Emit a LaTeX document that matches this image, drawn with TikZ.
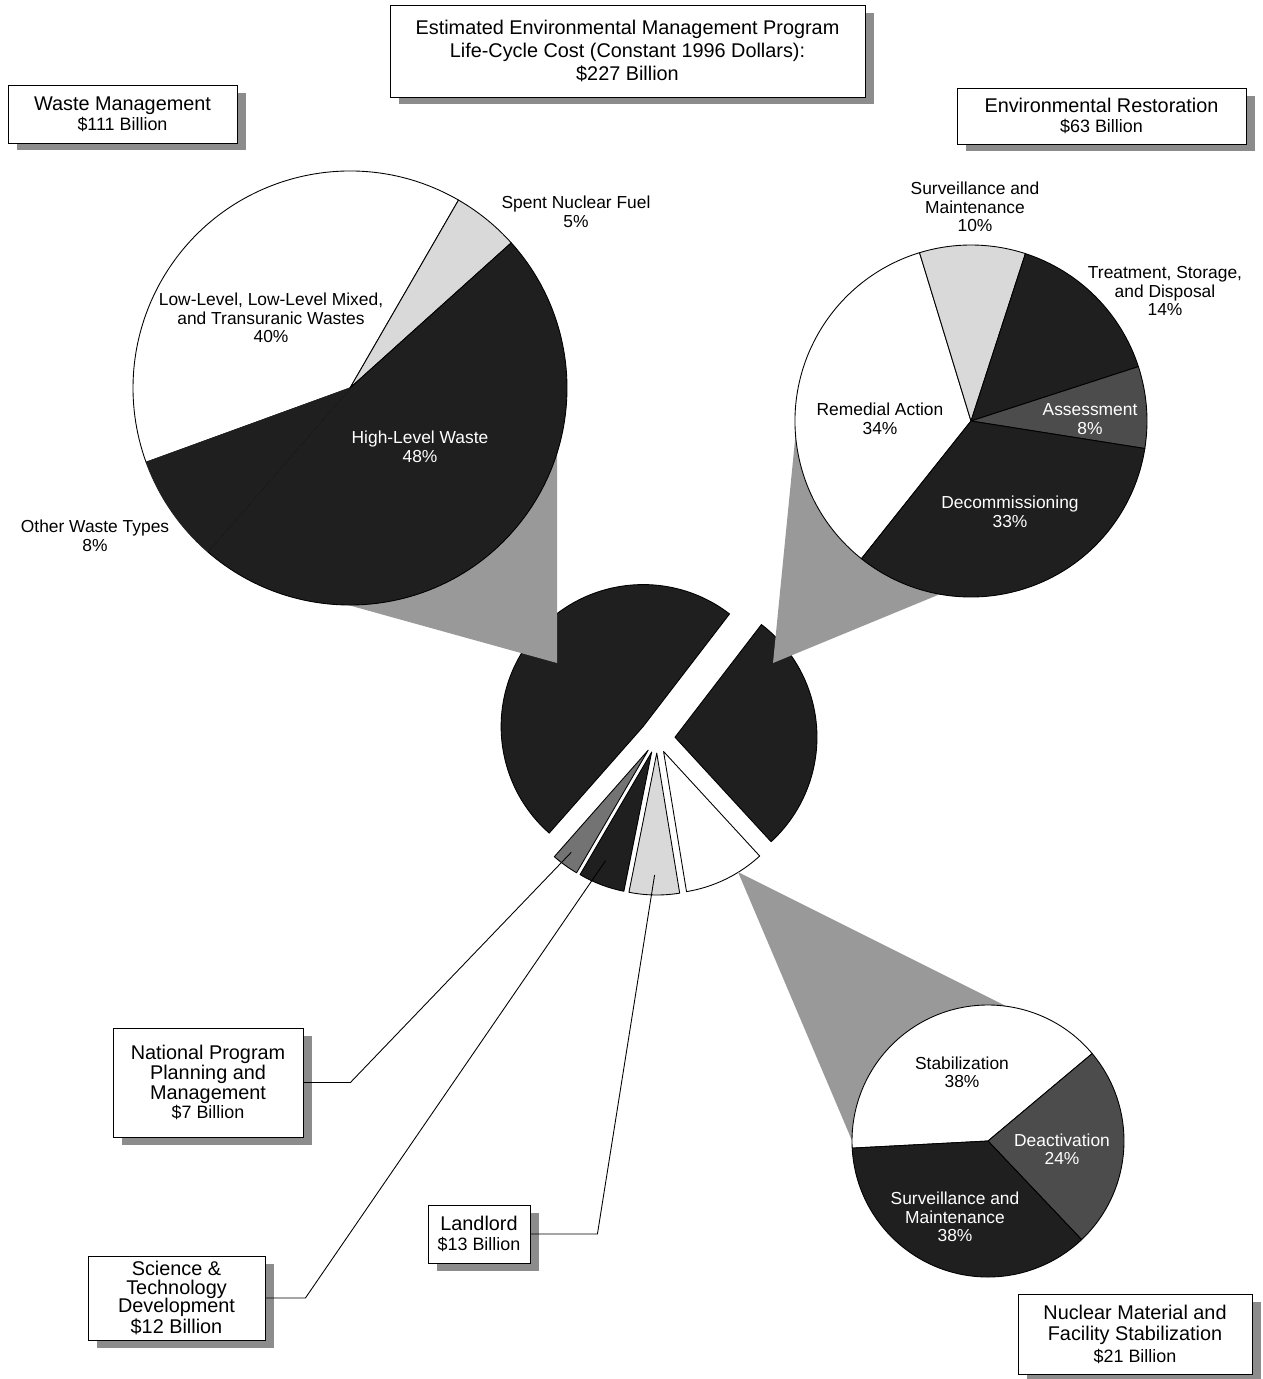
\documentclass[tikz,border=0pt]{standalone}
\usepackage{fontspec}
\setmainfont{Liberation Sans}
\usetikzlibrary{calc,shadows,positioning}
\colorlet{dark}{black!88}
\colorlet{light}{black!15}
\colorlet{midgrey}{black!55}
\colorlet{darkgrey}{black!70}
\newcommand{\amt}{\fontsize{10.2}{11}\selectfont}
\newcommand{\pieslice}[5]{%
    \filldraw[slice, #5] (#1) -- ++(#3:#2) arc[start angle=#3, end angle=#4, radius=#2] -- cycle;
}
\tikzset{
    box/.style = {draw, rectangle, fill=white, align=center, inner sep=0pt,
        font=\fontsize{11.3}{11.3}\selectfont,
        drop shadow={shadow xshift=0.18cm, shadow yshift=-0.15cm, fill=black!45, opacity=1}},
    slice/.style = {draw=black, line width=0.5pt, line join=round},
    callout/.style = {fill=black!40},
    lbl/.style = {align=center, font=\fontsize{9.9}{10.5}\selectfont},
    lblw/.style = {lbl, text=white},
    link/.style = {draw, line width=0.5pt}
}

\begin{document}
\begin{tikzpicture}[x=0.02cm, y=0.02cm, line width=0.5pt]
    \useasboundingbox (0,0) rectangle (1263,-1379);
    \coordinate (ctr) at (657,-738);
    \coordinate (wm-c) at (350,-388);
    \coordinate (er-c) at (971,-421);
    \coordinate (ns-c) at (988,-1141);

    \foreach \a/\b/\f/\d [count=\i] in {52.5/228.6/dark/18, -47.4/52.5/dark/18, -80.7/-47.4/white/15,
            -101.3/-80.7/light/15, -120.3/-101.3/dark/15, -131.4/-120.3/midgrey/15}{
        \coordinate (s\i) at ($(ctr)+({(\a+\b)/2}:\d)$);
        \pieslice{s\i}{142}{\a}{\b}{fill=\f}
    }
    \coordinate (land-in) at ($(s4)+(-91:122)$);
    \coordinate (st-in) at ($(s5)+(-113:118)$);
    \coordinate (nppm-in) at ($(s6)+(-127:128)$);

    \fill[callout] (557,-663) -- (330,-600) -- (557,-380) -- cycle;
    \fill[callout] (773,-663) -- (950,-590) -- (er-c) -- (796,-430) -- cycle;
    \fill[callout] (738,-872) -- (1010,-1008) -- (ns-c) -- (856,-1150) -- cycle;

    \foreach \a/\b/\f in {60/200/white, 42/60/light, -131/42/dark}{
        \pieslice{wm-c}{217}{\a}{\b}{fill=\f}
    }
    \pieslice{wm-c}{217}{200}{229}{fill=dark, draw=dark}
    \foreach \a/\b/\f in {107/231.5/white, 72/107/light, 18/72/dark, -9/18/darkgrey, -128.5/-9/dark}{
        \pieslice{er-c}{176}{\a}{\b}{fill=\f}
    }
    \foreach \a/\b/\f in {40/183/white, -46.5/40/darkgrey, 183/313.5/dark}{
        \pieslice{ns-c}{136}{\a}{\b}{fill=\f}
    }

    \node[lbl] (wm-ll) at (271,-318) {Low-Level, Low-Level Mixed,\\and Transuranic Wastes\\40\%};
    \node[lblw] (wm-hl) at (420,-447) {High-Level Waste\\48\%};
    \node[lbl] (wm-snf) at (576,-212) {Spent Nuclear Fuel\\5\%};
    \node[lbl] (wm-ot) at (95,-536) {Other Waste Types\\8\%};
    \node[lbl] (er-sm) at (975,-207) {Surveillance and\\Maintenance\\10\%};
    \node[lbl] (er-tsd) at (1165,-291) {Treatment, Storage,\\and Disposal\\14\%};
    \node[lbl] (er-ra) at (880,-419) {Remedial Action\\34\%};
    \node[lblw] (er-as) at (1090,-419) {Assessment\\8\%};
    \node[lblw] (er-dc) at (1010,-512) {Decommissioning\\33\%};
    \node[lbl] (ns-st) at (962,-1072) {Stabilization\\38\%};
    \node[lblw] (ns-de) at (1062,-1149) {Deactivation\\24\%};
    \node[lblw] (ns-sm) at (955,-1217) {Surveillance and\\Maintenance\\38\%};

    \node[box, minimum width=9.5cm, minimum height=1.84cm, font=\fontsize{11.3}{13.3}\selectfont] (total) at (627.5,-51)
        {Estimated Environmental Management Program\\Life-Cycle Cost (Constant 1996 Dollars):\\\$227 Billion};
    \node[box, minimum width=4.58cm, minimum height=1.16cm] (wm) at (122.5,-114) {Waste Management\\{\amt \$111 Billion}};
    \node[box, minimum width=5.78cm, minimum height=1.12cm] (er) at (1101.5,-116) {Environmental Restoration\\{\amt \$63 Billion}};
    \node[box, minimum width=4.68cm, minimum height=1.6cm, font=\fontsize{11.3}{12.2}\selectfont] (nmfs) at (1135,-1334)
        {Nuclear Material and\\Facility Stabilization\\{\amt \$21 Billion}};
    \node[box, minimum width=3.8cm, minimum height=2.18cm] (nppm) at (208,-1082.5) {National Program\\Planning and\\Management\\{\amt \$7 Billion}};
    \node[box, minimum width=2.04cm, minimum height=1.16cm] (land) at (479,-1234) {Landlord\\{\amt \$13 Billion}};
    \node[box, minimum width=3.54cm, minimum height=1.68cm, font=\fontsize{11.3}{10.6}\selectfont] (st) at (176.5,-1298)
        {Science \&\\Technology\\Development\\\$12 Billion};

    \draw[link] (nppm-in) -- ($(nppm.east)+(47,0)$) -- (nppm.east);
    \draw[link] (st-in) -- ($(st.east)+(40,0)$) -- (st.east);
    \draw[link] (land-in) -- ($(land.east)+(67,0)$) -- (land.east);
\end{tikzpicture}
\end{document}
